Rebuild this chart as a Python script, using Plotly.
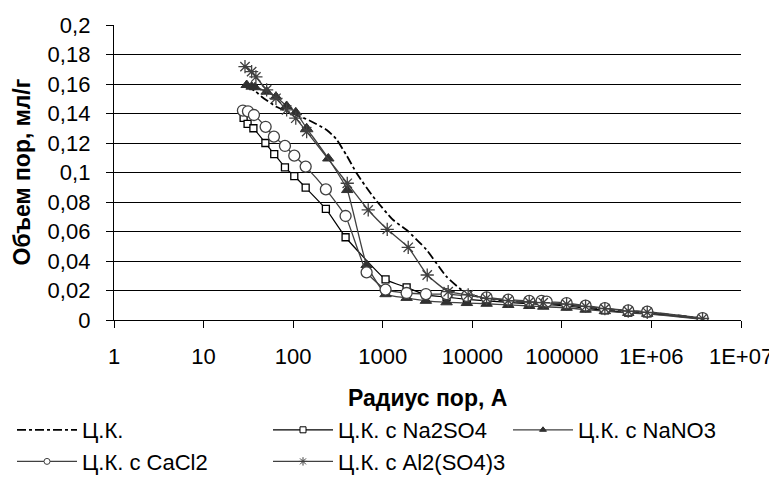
import plotly.graph_objects as go

# ---- data ----
ck_x = [30, 38, 44.5, 65, 109, 154, 237, 300, 400, 512, 783, 1310, 1849, 3090, 5160, 8630,
        14450, 25200, 43200, 62000, 113000, 184000, 302000, 551000, 898000, 3720000]
ck_y = [0.159, 0.155, 0.1514, 0.1446, 0.139, 0.1351, 0.1288, 0.123, 0.111, 0.0995, 0.0836, 0.0678,
        0.061, 0.0475, 0.0294, 0.0181, 0.0145, 0.013, 0.012, 0.0115, 0.0105, 0.009, 0.0075, 0.006,
        0.0052, 0.0012]

na2so4_x = [28, 31, 36, 49, 61.5, 81, 103, 138, 232, 385, 1076, 1849, 3035, 5160, 8710, 14450,
            25200, 43200, 62000, 113000, 184000, 302000, 551000, 898000, 3720000]
na2so4_y = [0.137, 0.133, 0.130, 0.120, 0.1125, 0.1035, 0.0976, 0.0897, 0.0753, 0.0561, 0.0275,
            0.0221, 0.017, 0.0155, 0.014, 0.013, 0.012, 0.011, 0.0105, 0.0095, 0.008, 0.0065,
            0.005, 0.0045, 0.0008]

nano3_x = [30.3, 34.4, 37.5, 50.6, 64.3, 84.6, 107, 141.5, 247, 402, 661, 1076, 1849, 3035, 5160,
           8710, 14450, 25200, 43200, 62000, 113000, 184000, 302000, 551000, 898000, 3720000]
nano3_y = [0.1593, 0.1582, 0.1578, 0.1548, 0.1514, 0.1451, 0.1408, 0.130, 0.1095, 0.0881, 0.0373,
           0.0175, 0.015, 0.013, 0.012, 0.0115, 0.011, 0.0102, 0.0095, 0.009, 0.0083, 0.007,
           0.006, 0.0048, 0.0042, 0.0005]

cacl2_x = [27.5, 31.3, 36.5, 49.3, 61, 81, 103, 138, 232, 385, 661, 1076, 1849, 3035, 5160, 8710,
           14450, 25200, 43200, 59400, 67600, 113000, 184000, 302000, 551000, 898000, 3720000]
cacl2_y = [0.142, 0.1415, 0.139, 0.131, 0.1243, 0.118, 0.1114, 0.104, 0.0886, 0.0705, 0.0323,
           0.0206, 0.0183, 0.0176, 0.0175, 0.0163, 0.0153, 0.0138, 0.013, 0.013, 0.0125, 0.0115,
           0.0097, 0.008, 0.0065, 0.0057, 0.0013]

al2_x = [29, 34.4, 38.4, 50.6, 64.3, 84.6, 107, 141.5, 402, 689, 1123, 1927, 3140, 5380, 9000,
         14450, 25200, 43200, 62000, 113000, 184000, 302000, 551000, 898000, 3720000]
al2_y = [0.1718, 0.1684, 0.1648, 0.156, 0.1503, 0.1424, 0.1368, 0.1277, 0.0927, 0.0746, 0.0615,
         0.0493, 0.0305, 0.0192, 0.017, 0.0147, 0.0132, 0.0122, 0.0118, 0.0107, 0.0092, 0.0077,
         0.006, 0.0052, 0.001]

x_tickvals = [1, 10, 100, 1000, 10000, 100000, 1e6, 1e7]
x_ticktext = ["1", "10", "100", "1000", "10000", "100000", "1E+06", "1E+07"]
y_tickvals = [0, 0.02, 0.04, 0.06, 0.08, 0.1, 0.12, 0.14, 0.16, 0.18, 0.2]
y_ticktext = ["0", "0,02", "0,04", "0,06", "0,08", "0,1", "0,12", "0,14", "0,16", "0,18", "0,2"]

FONT = "Liberation Sans, Arial, sans-serif"
GRAY = "#404040"
W, H = 769, 469  # page body has an 8px margin

# series: name, x, y, line style, marker style, legend id
series = [
    ("Ц.К.", ck_x, ck_y, dict(color="black", width=1.8, dash="dashdot", shape="spline", smoothing=0.6),
     None, "legend"),
    ("Ц.К. с Na2SO4", na2so4_x, na2so4_y, dict(color="black", width=1.2, shape="spline", smoothing=0.4),
     dict(symbol="square", size=7, color="white", line=dict(color="black", width=1.3)), "legend2"),
    ("Ц.К. с NaNO3", nano3_x, nano3_y, dict(color=GRAY, width=1.3, shape="spline", smoothing=0.4),
     dict(symbol="triangle-up", size=10, color="#303030", line=dict(color="#303030", width=1)), "legend3"),
    ("Ц.К. с CaCl2", cacl2_x, cacl2_y, dict(color=GRAY, width=1.3, shape="spline", smoothing=0.4),
     dict(symbol="circle", size=11, color="white", line=dict(color=GRAY, width=1.3)), "legend"),
    ("Ц.К. с Al2(SO4)3", al2_x, al2_y, dict(color=GRAY, width=1.3, shape="spline", smoothing=0.4),
     dict(symbol="asterisk-open", size=11, color=GRAY, line=dict(color=GRAY, width=1.3)), "legend2"),
]

fig = go.Figure()
for name, xs, ys, ln, mk, _ in series:
    if mk is None:
        fig.add_trace(go.Scatter(x=xs, y=ys, name=name, mode="lines", line=ln, showlegend=False))
    else:
        fig.add_trace(go.Scatter(x=xs, y=ys, name=name, mode="lines+markers", line=ln, marker=mk,
                                 showlegend=False))

# legend entries with small sample markers (as in the reference legend)
for i, (name, xs, ys, ln, mk, leg) in enumerate(series):
    ln_leg = {k: v for k, v in ln.items() if k not in ("shape", "smoothing")}
    if mk is None:
        fig.add_trace(go.Scatter(x=[None], y=[None], name=name, mode="lines", line=ln_leg,
                                 legend=leg, legendgroup=f"g{i}", showlegend=True))
    else:
        mk_leg = dict(mk)
        mk_leg["size"] = 6 if mk["symbol"] != "asterisk-open" else 7
        mk_leg["line"] = dict(mk["line"], width=1)
        fig.add_trace(go.Scatter(x=[None], y=[None], name=name, mode="lines+markers", line=ln_leg,
                                 marker=mk_leg, legend=leg, legendgroup=f"g{i}", showlegend=True))

leg_common = dict(orientation="v", xref="container", yref="container", yanchor="top", xanchor="left",
                  font=dict(family=FONT, size=22, color="black"), bgcolor="rgba(0,0,0,0)",
                  itemwidth=60, tracegroupgap=6, traceorder="normal", itemsizing="trace")

fig.update_layout(
    width=W, height=H,
    margin=dict(l=106, r=36, t=17, b=157, autoexpand=False),
    paper_bgcolor="white", plot_bgcolor="white",
    font=dict(family=FONT, size=22, color="black"),
    showlegend=True,
    legend=dict(x=4 / W, y=1 - 401 / H, **leg_common),
    legend2=dict(x=260 / W, y=1 - 401 / H, **leg_common),
    legend3=dict(x=500 / W, y=1 - 401 / H, **leg_common),
    xaxis=dict(type="log", range=[0, 7], tickvals=x_tickvals, ticktext=x_ticktext,
               showgrid=False, zeroline=False, showline=True, linecolor="black", linewidth=1.3,
               ticks="outside", ticklen=7, tickcolor="black", tickwidth=1.3,
               tickfont=dict(family=FONT, size=22), automargin=False, ticklabelstandoff=9),
    yaxis=dict(range=[0, 0.2], tickvals=y_tickvals, ticktext=y_ticktext,
               showgrid=True, gridcolor="black", gridwidth=1.3, zeroline=False,
               showline=True, linecolor="black", linewidth=1.3,
               ticks="outside", ticklen=7, tickcolor="black", tickwidth=1.3,
               tickfont=dict(family=FONT, size=22), automargin=False, ticklabelstandoff=11),
    annotations=[
        dict(text="<b>Радиус пор, А</b>", xref="paper", yref="paper", x=0.5, y=(312 - 390) / 295,
             xanchor="center", yanchor="middle", showarrow=False, font=dict(family=FONT, size=23)),
        dict(text="<b>Объем пор, мл/г</b>", xref="paper", yref="paper", x=(13 - 106) / 627, y=0.5,
             xanchor="center", yanchor="middle", textangle=-90, showarrow=False,
             font=dict(family=FONT, size=23)),
    ],
)

fig.write_html("out.html")
